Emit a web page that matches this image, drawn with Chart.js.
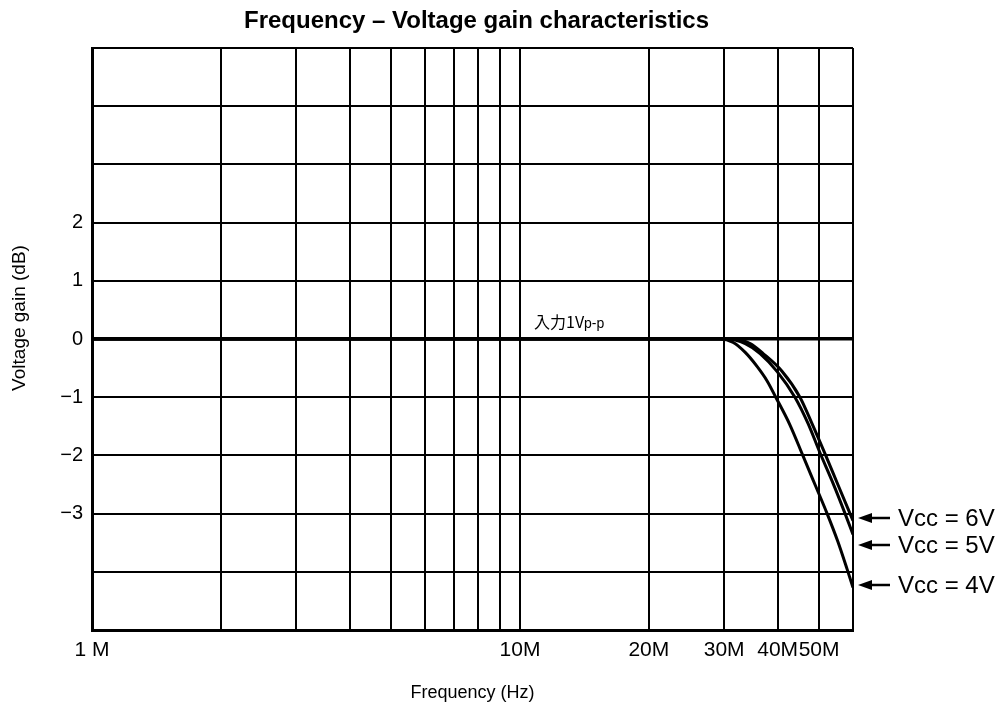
<!DOCTYPE html>
<html>
<head>
<meta charset="utf-8">
<script src="https://cdn.jsdelivr.net/npm/chart.js@4"></script>
<style>
  html, body { margin: 0; padding: 0; background: #fff; }
  canvas { display: block; }
</style>
</head>
<body>
<canvas id="gain" width="1000" height="708"></canvas>
<script>
// frequency grid (Hz) and labelled ticks
const xGrid = [1e6, 2e6, 3e6, 4e6, 5e6, 6e6, 7e6, 8e6, 9e6, 1e7, 2e7, 3e7, 4e7, 5e7, 6e7];
const xLabelValues = [1e6, 1e7, 2e7, 3e7, 4e7, 5e7];
const xLabelText = ['1 M', '10M', '20M', '30M', '40M', '50M'];
const yLabelValues = [2, 1, 0, -1, -2, -3];

// Vcc = 6V
const freqVcc6 = [1e6, 1e7, 2e7, 28e6, 31.8e6, 34.5e6, 37.0e6, 40.9e6, 45.1e6, 48.1e6, 51.6e6, 55.3e6, 60e6];
const gainVcc6 = [0, 0, 0, 0, 0, -0.08, -0.25, -0.55, -1.0, -1.45, -1.97, -2.5, -3.12];
// Vcc = 5V
const freqVcc5 = [1e6, 1e7, 2e7, 28e6, 30.6e6, 33.6e6, 36.4e6, 39.9e6, 43.9e6, 47.1e6, 50.2e6, 53.9e6, 57.5e6, 60e6];
const gainVcc5 = [0, 0, 0, 0, 0, -0.08, -0.25, -0.56, -1.0, -1.45, -1.95, -2.48, -3.0, -3.36];
// Vcc = 4V
const freqVcc4 = [1e6, 1e7, 2e7, 27e6, 29.3e6, 31.5e6, 33.6e6, 35.8e6, 37.8e6, 39.6e6, 42.7e6, 45.8e6, 48.9e6, 52.2e6, 55.3e6, 58.1e6, 60e6];
const gainVcc4 = [0, 0, 0, 0, 0, -0.06, -0.23, -0.47, -0.72, -1.0, -1.47, -2.0, -2.5, -3.0, -3.48, -3.95, -4.27];

const seriesNames = ['Vcc = 6V', 'Vcc = 5V', 'Vcc = 4V'];

const FONT = "'Liberation Sans', Arial, sans-serif";
const CJK = "'Noto Sans CJK JP', 'Liberation Sans', sans-serif";

function curve(label, xs, ys){
    return {
        label: label,
        data: xs.map((x, i) => ({x: x, y: ys[i]})),
        borderColor: '#000',
        borderWidth: 3,
        pointRadius: 0,
        fill: false,
        cubicInterpolationMode: 'monotone'
    };
}

const minus = v => v < 0 ? '\u2212' + Math.abs(v) : String(v);

// title, y axis name, the 入力 note and the Vcc arrows
const extras = {
    id: 'extras',
    afterDraw(chart){
        const c = chart.ctx;
        const a = chart.chartArea;
        c.save();
        c.fillStyle = '#000';
        c.strokeStyle = '#000';
        c.textBaseline = 'middle';

        c.font = 'bold 24px ' + FONT;
        c.textAlign = 'center';
        c.fillText('Frequency \u2013 Voltage gain characteristics', (a.left + a.right) / 2 + 4, 21);

        c.save();
        c.translate(20, 318);
        c.rotate(-Math.PI / 2);
        c.font = '19px ' + FONT;
        c.fillText('Voltage gain (dB)', 0, 0);
        c.restore();

        // 入力1Vp-p note just above the 0 dB line
        const ny = chart.scales.y.getPixelForValue(0) - 17;
        c.textAlign = 'left';
        c.font = '16px ' + CJK;
        c.fillText('入力1V', 534, ny);
        const w = c.measureText('入力1V').width;
        c.font = '14px ' + FONT;
        c.fillText('p-p', 534 + w, ny + 2);

        const rows = [518, 545, 585];
        c.font = '24px ' + FONT;
        rows.forEach((y, i) => {
            const x0 = a.right + 5;
            c.lineWidth = 2.5;
            c.beginPath();
            c.moveTo(x0 + 10, y);
            c.lineTo(x0 + 32, y);
            c.stroke();
            c.beginPath();
            c.moveTo(x0, y);
            c.lineTo(x0 + 14, y - 5);
            c.lineTo(x0 + 14, y + 5);
            c.closePath();
            c.fill();
            c.fillText(seriesNames[i], x0 + 40, y + 1);
        });
        c.restore();
    }
};

new Chart(document.getElementById('gain').getContext('2d'), {
    type: 'line',
    data: {
        datasets: [
            curve(seriesNames[0], freqVcc6, gainVcc6),
            curve(seriesNames[1], freqVcc5, gainVcc5),
            curve(seriesNames[2], freqVcc4, gainVcc4)
        ]
    },
    options: {
        responsive: false,
        animation: false,
        devicePixelRatio: 1,
        layout: {
            padding: {top: 48, right: 147, left: 0, bottom: 0}
        },
        plugins: {
            legend: {display: false},
            tooltip: {enabled: false}
        },
        scales: {
            x: {
                type: 'logarithmic',
                min: 1e6,
                max: 6e7,
                afterBuildTicks: s => { s.ticks = xGrid.map(v => ({value: v})); },
                afterFit: s => { s.height = 78; },
                grid: {
                    color: '#000',
                    lineWidth: 2,
                    drawTicks: false
                },
                border: {color: '#000', width: 3},
                ticks: {
                    autoSkip: false,
                    maxRotation: 0,
                    padding: 8,
                    color: '#000',
                    font: {family: FONT, size: 21},
                    callback: v => {
                        const i = xLabelValues.indexOf(v);
                        return i >= 0 ? xLabelText[i] : '';
                    }
                },
                title: {
                    display: true,
                    text: 'Frequency (Hz)',
                    color: '#000',
                    font: {family: FONT, size: 18},
                    padding: {top: 0, bottom: 4}
                }
            },
            y: {
                min: -5,
                max: 5,
                afterFit: s => { s.width = 92; },
                grid: {
                    color: '#000',
                    lineWidth: ctx => (ctx.tick && ctx.tick.value === 0) ? 3.5 : 2,
                    drawTicks: false
                },
                border: {color: '#000', width: 3},
                ticks: {
                    stepSize: 1,
                    padding: 9,
                    color: '#000',
                    font: {family: FONT, size: 20},
                    callback: v => yLabelValues.includes(v) ? minus(v) : ''
                }
            }
        }
    },
    plugins: [extras]
});
</script>
</body>
</html>
